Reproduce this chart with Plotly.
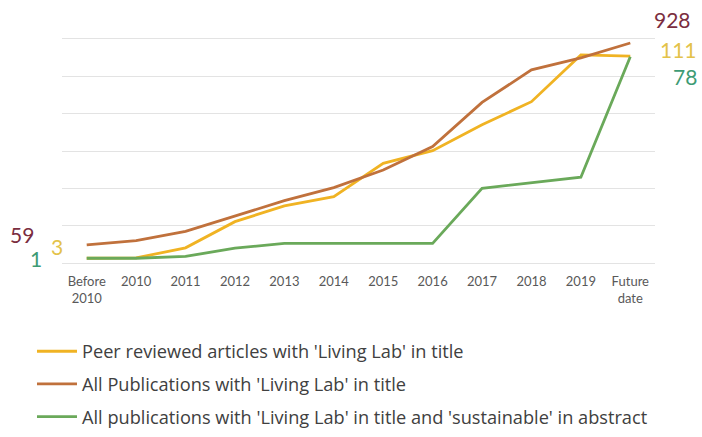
import plotly.graph_objects as go

categories = ["Before<br>2010", "2010", "2011", "2012", "2013", "2014", "2015",
              "2016", "2017", "2018", "2019", "Future<br>date"]

# Values (arbitrary gridline units, axis is unlabeled)
peer_reviewed = [0.13, 0.14, 0.41, 1.11, 1.53, 1.78, 2.67, 3.01, 3.70, 4.32, 5.57, 5.54]
all_publications = [0.49, 0.60, 0.85, 1.25, 1.67, 2.02, 2.49, 3.12, 4.30, 5.17, 5.49, 5.89]
sustainable = [0.13, 0.13, 0.18, 0.40, 0.53, 0.53, 0.53, 0.53, 2.00, 2.15, 2.30, 5.52]

series_names = ["Peer reviewed articles with 'Living Lab' in title",
                "All Publications with 'Living Lab' in title",
                "All publications with 'Living Lab' in title and 'sustainable' in abstract"]
line_colors = ["#f0b323", "#c0713c", "#6aa95a"]
label_colors = ["#e3c24a", "#7b2d40", "#3d9b74"]
start_labels = ["3", "59", "1"]
end_labels = ["111", "928", "78"]

fig = go.Figure()
for name, vals, col, grp in zip(series_names, [peer_reviewed, all_publications, sustainable],
                                line_colors, ["a", "b", "c"]):
    fig.add_trace(go.Scatter(x=categories, y=vals, mode="lines", name=name,
                             line=dict(color=col, width=2.8), legendgroup=grp))

font_family = "Lato, 'Open Sans', sans-serif"

# start / end value labels in paper coordinates
label_pos_start = [(-0.008, 0.0833), (-0.067, 0.1316), (-0.044, 0.0307)]
label_pos_end = [(1.039, 0.943), (1.029, 1.0746), (1.051, 0.8246)]
for txt, (px, py), col in zip(start_labels + end_labels, label_pos_start + label_pos_end,
                              label_colors + label_colors):
    fig.add_annotation(text=txt, x=px, y=py, xref="paper", yref="paper",
                       showarrow=False, font=dict(size=21, color=col, family=font_family),
                       xanchor="center", yanchor="middle")

fig.update_layout(
    width=702, height=437,
    margin=dict(l=62, r=47, t=37, b=172, autoexpand=False),
    paper_bgcolor="white", plot_bgcolor="white",
    font=dict(family=font_family, color="#595959"),
    showlegend=True,
    legend=dict(x=-0.0506, y=-0.298, xanchor="left", yanchor="top",
                orientation="v", tracegroupgap=6, itemwidth=40,
                font=dict(size=18.2, color="#404040", family="'Open Sans', sans-serif"),
                bgcolor="rgba(0,0,0,0)"),
    xaxis=dict(type="category", range=[-0.5, 11.5], showgrid=False, zeroline=False,
               showline=False, ticks="", tickfont=dict(size=13, color="#595959"),
               ticklabelstandoff=7, tickangle=0, automargin=False, fixedrange=True),
    yaxis=dict(range=[-0.05, 6.05], tickvals=[0, 1, 2, 3, 4, 5, 6], showgrid=True,
               gridcolor="#e3e3e3", gridwidth=1.3, automargin=False,
               zeroline=False, showticklabels=False, showline=False, fixedrange=True),
)

fig.write_html("out.html")
